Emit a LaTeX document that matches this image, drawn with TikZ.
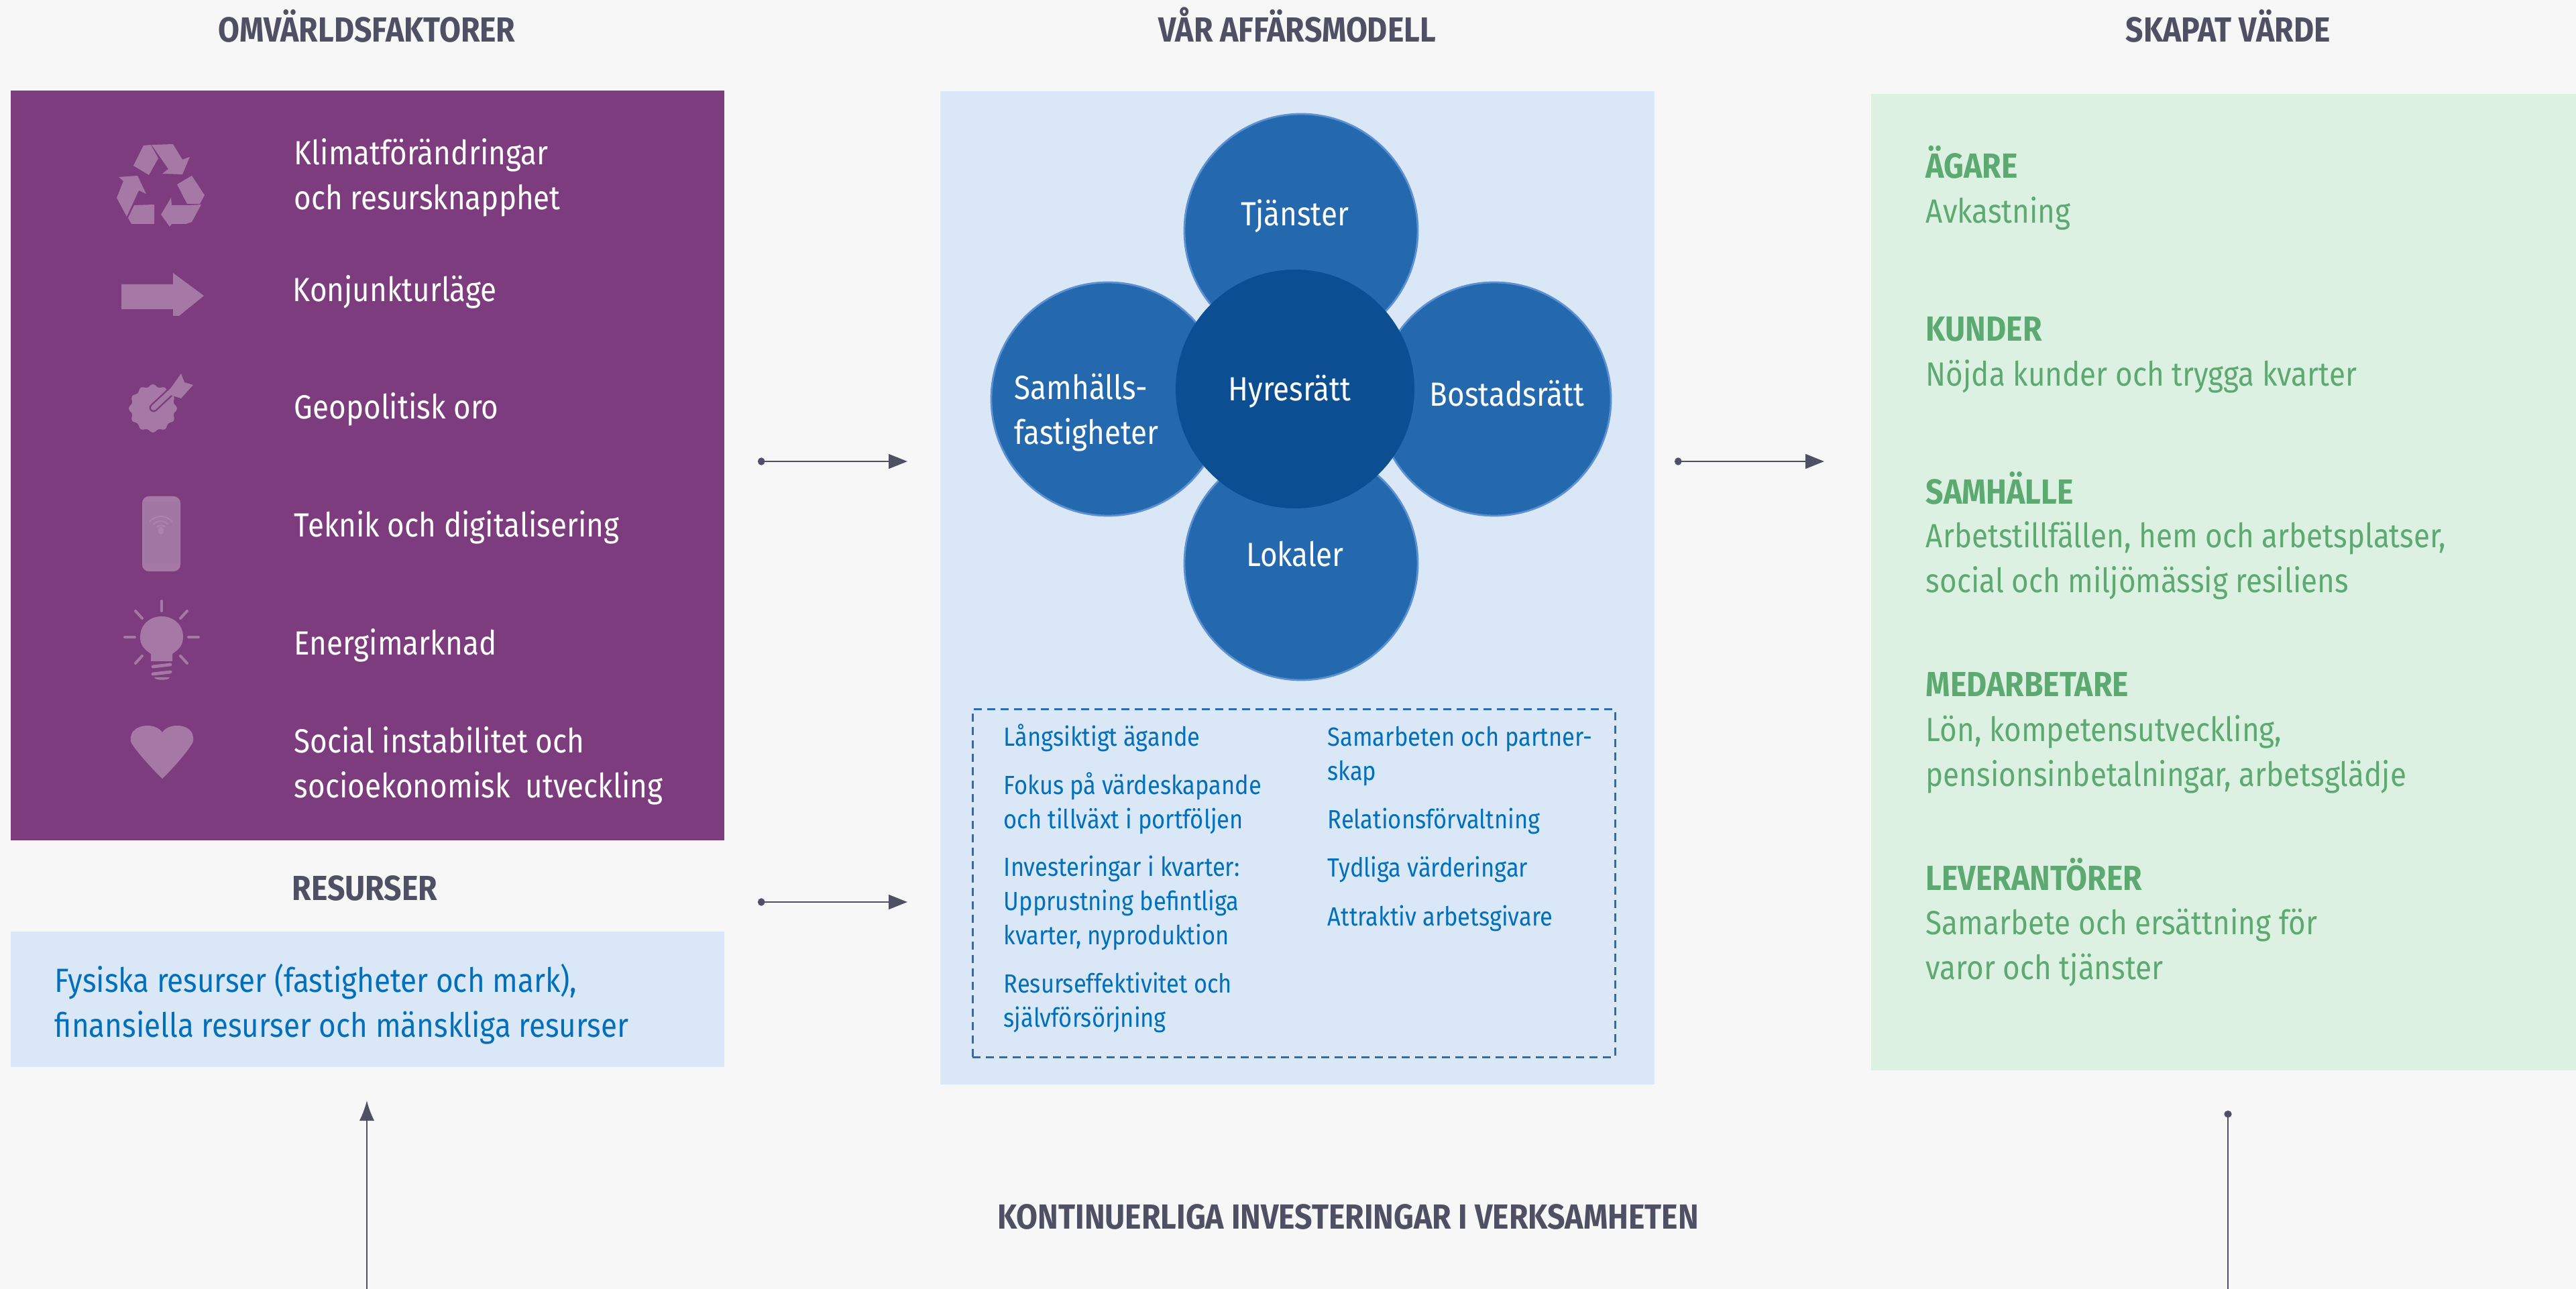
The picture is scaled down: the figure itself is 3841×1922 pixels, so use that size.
\documentclass[tikz,border=0pt]{standalone}
\usepackage{fontspec}
\usetikzlibrary{arrows.meta,fit}
\setmainfont{Fira Sans}
\newfontfamily\bodyf[FakeStretch=0.88]{Fira Sans}
\newfontfamily\headf[FakeStretch=0.89]{Fira Sans Bold}
\definecolor{bgc}{HTML}{F7F7F7}
\definecolor{purp}{HTML}{7D3C7E}
\definecolor{iconc}{HTML}{A678A6}
\definecolor{iconb}{HTML}{A176A3}
\definecolor{paleblue}{HTML}{DAE7F6}
\definecolor{palegreen}{HTML}{DCF1E1}
\definecolor{petal}{HTML}{2469AD}
\definecolor{petalb}{HTML}{5B90D2}
\definecolor{hub}{HTML}{0B4F92}
\definecolor{bluetxt}{HTML}{0070BC}
\definecolor{dashc}{HTML}{2D6DB4}
\definecolor{greentxt}{HTML}{5DA972}
\definecolor{darkc}{HTML}{4F5064}
\tikzset{
  panel/.style={inner sep=0pt,outer sep=0pt,draw=none},
  title/.style={inner sep=0pt,anchor=base,text=darkc,yshift=-.2pt,font=\headf\fontsize{13}{16}\selectfont},
  bodytxt/.style={inner sep=0pt,anchor=base west,align=left,yshift=-.4pt,font=\bodyf\fontsize{12.5}{16.75}\selectfont},
  smalltxt/.style={inner sep=0pt,anchor=base west,align=left,yshift=-.3pt,text=bluetxt,font=\bodyf\fontsize{9.8}{12.75}\selectfont},
  greenhead/.style={inner sep=0pt,anchor=base west,text=greentxt,yshift=-.4pt,font=\headf\fontsize{13}{16}\selectfont},
  greenbody/.style={bodytxt,text=greentxt},
  whitetxt/.style={bodytxt,text=white},
  petalnode/.style={circle,inner sep=0pt,outer sep=0pt,minimum size=87pt,fill=petal,draw=petalb,line width=.7pt},
  hubnode/.style={circle,inner sep=0pt,outer sep=0pt,minimum size=89pt,fill=hub},
  flow/.style={darkc,line width=.7pt,{Circle[length=2.6pt,width=2.8pt]}-{Triangle[length=7pt,width=5.4pt]}},
  upflow/.style={darkc,line width=.5pt,-{Latex[length=7.5pt,width=5.6pt]}},
  ray/.style={iconc,line width=1pt,line cap=round},
}
\begin{document}
\begin{tikzpicture}[x=0.25pt,y=-0.25pt]
\useasboundingbox (0,0) rectangle (3841,1922);
\fill[bgc] (0,0) rectangle (3841,1922);

% panels
\node[panel,fill=purp,fit={(16,135)(1080,1253)}] (purple) {};
\node[panel,fill=paleblue,fit={(16,1389)(1080,1591)}] (resbox) {};
\node[panel,fill=paleblue,fit={(1402,136)(2467,1617)}] (model) {};
\node[panel,fill=palegreen,fit={(2790,140)(3841,1596)}] (value) {};
\node[panel,draw=dashc,line width=.75pt,dash pattern=on 3pt off 2pt,fit={(1450,1058)(2408,1576)}] (dashbox) {};

% titles
\node[title] (t1) at (547,62) {OMVÄRLDSFAKTORER};
\node[title] (t2) at (1934,62) {VÅR AFFÄRSMODELL};
\node[title] (t3) at (3322,62) {SKAPAT VÄRDE};
\node[title] (t4) at (544,1342) {RESURSER};
\node[title] (t5) at (2010,1832) {KONTINUERLIGA INVESTERINGAR I VERKSAMHETEN};

% icons: recycle
\fill[iconc] (199,247) -- (214,217) -- (225,216) -- (236,236) -- (222,261) -- cycle;
\fill[iconc] (226,216) -- (258,215) -- (272,238) -- (283,234) -- (272,260) -- (242,259) -- (251,252) -- cycle;
\fill[iconc] (286,262) -- (305,291) -- (298,304) -- (279,304) -- (264,275) -- cycle;
\fill[iconc] (300,305) -- (286,331) -- (277,334) -- (256,334) -- (253,338) -- (240,320) -- (255,295) -- (256,306) -- (281,306) -- cycle;
\fill[iconc] (230,305) -- (230,334) -- (196,334) -- (191,325) -- (200,306) -- cycle;
\fill[iconc] (177,264) -- (205,262) -- (218,289) -- (207,284) -- (189,323) -- (174,295) -- (184,270) -- cycle;
% arrow
\fill[iconc] (181,424) -- (258,424) -- (258,407) -- (304,441) -- (267,471) -- (258,471) -- (258,461) -- (181,461) -- cycle;
% target
\fill[iconc] plot[samples=72,domain=0:355] ({228+(34+2*cos(12*\x))*cos(\x)},{609+(34+2*cos(12*\x))*sin(\x)}) -- cycle;
\draw[purp,line width=3.2pt,line cap=round] (229,608) -- (258,581);
\draw[iconc,line width=2pt,line cap=round] (229,608) -- (258,581);
\fill[iconc] (253,581) -- (270,557) -- (275,570) -- (288,574) -- (270,594) -- (254,589) -- cycle;
% phone
\fill[iconc,rounded corners=2.5pt] (212,740) rectangle (269,852);
\fill[iconb] (214,748) rectangle (267,840);
\draw[iconc!92!white,line width=.5pt] (229,782) arc (220:320:14);
\draw[iconc!92!white,line width=.5pt] (223,778) arc (220:320:22);
\draw[iconc!92!white,line width=.5pt] (234,786) arc (220:320:8);
\fill[iconc!92!white] (240,791) ellipse (4 and 6);
% bulb
\fill[iconc] (225,986) -- (225,975) .. controls (215,968) and (209,962) .. (209,950) .. controls (209,930) and (225,919) .. (241,919) .. controls (257,919) and (273,930) .. (273,950) .. controls (273,962) and (267,968) .. (257,975) -- (257,986) -- cycle;
\draw[ray] (241,896) -- (241,911);
\draw[ray] (202,911) -- (212,922);
\draw[ray] (279,911) -- (269,922);
\draw[ray] (186,950) -- (201,950);
\draw[ray] (281,950) -- (296,950);
\draw[ray] (202,989) -- (212,978);
\draw[ray] (279,989) -- (269,978);
\draw[ray,line width=1.2pt] (228,994) -- (254,991);
\draw[ray,line width=1.2pt] (228,1005) -- (254,1002);
\fill[iconc] (230,1010) -- (253,1010) .. controls (252,1015) and (231,1015) .. cycle;
% heart
\fill[iconc] (242,1161) .. controls (220,1140) and (195,1110) .. (195,1105) .. controls (193,1090) and (205,1082) .. (220,1082) .. controls (230,1082) and (238,1086) .. (242,1092) .. controls (246,1086) and (254,1082) .. (264,1082) .. controls (279,1082) and (290,1090) .. (288,1105) .. controls (288,1110) and (264,1140) .. (242,1161) -- cycle;

% left texts
\node[whitetxt] (f1) at (438,311) {Klimatförändringar\\och resursknapphet};
\node[whitetxt] (f2) at (436,448) {Konjunkturläge};
\node[whitetxt] (f3) at (438,623) {Geopolitisk oro};
\node[whitetxt] (f4) at (438,799) {Teknik och digitalisering};
\node[whitetxt] (f5) at (438,975) {Energimarknad};
\node[whitetxt] (f6) at (438,1188) {Social instabilitet och\\socioekonomisk\ \ utveckling};
\node[bodytxt,text=bluetxt] (res) at (81,1545) {Fysiska resurser (fastigheter och mark),\\finansiella resurser och mänskliga resurser};

% circles
\node[petalnode] (ptop) at (1940,344) {};
\node[petalnode] (pbot) at (1940,840) {};
\node[petalnode] (pleft) at (1652,595) {};
\node[petalnode] (pright) at (2228,595) {};
\node[hubnode] (phub) at (1931,580) {};
\node[whitetxt,anchor=base] (ltop) at (1931,335) {Tjänster};
\node[whitetxt,anchor=base] (lbot) at (1931,843) {Lokaler};
\node[whitetxt,anchor=base] (lhub) at (1923,596) {Hyresrätt};
\node[whitetxt,anchor=base] (lright) at (2247,604) {Bostadsrätt};
\node[whitetxt] (lleft) at (1512,661) {Samhälls-\\fastigheter};

% dashed box text
\node[smalltxt] (a1) at (1496,1111) {Långsiktigt ägande};
\node[smalltxt] (a2) at (1496,1234) {Fokus på värdeskapande\\och tillväxt i portföljen};
\node[smalltxt] (a3) at (1496,1407) {Investeringar i kvarter:\\Upprustning befintliga\\kvarter, nyproduktion};
\node[smalltxt] (a4) at (1496,1530) {Resurseffektivitet och\\självförsörjning};
\node[smalltxt] (b1) at (1979,1162) {Samarbeten och partner-\\skap};
\node[smalltxt] (b2) at (1979,1234) {Relationsförvaltning};
\node[smalltxt] (b3) at (1979,1306) {Tydliga värderingar};
\node[smalltxt] (b4) at (1979,1379) {Attraktiv arbetsgivare};

% right texts
\node[greenhead] (h1) at (2871,264) {ÄGARE};
\node[greenbody] (v1) at (2871,331) {Avkastning};
\node[greenhead] (h2) at (2871,507) {KUNDER};
\node[greenbody] (v2) at (2871,574) {Nöjda kunder och trygga kvarter};
\node[greenhead] (h3) at (2871,750) {SAMHÄLLE};
\node[greenbody] (v3) at (2871,882) {Arbetstillfällen, hem och arbetsplatser,\\social och miljömässig resiliens};
\node[greenhead] (h4) at (2871,1037) {MEDARBETARE};
\node[greenbody] (v4) at (2871,1171) {Lön, kompetensutveckling,\\pensionsinbetalningar, arbetsglädje};
\node[greenhead] (h5) at (2871,1326) {LEVERANTÖRER};
\node[greenbody] (v5) at (2871,1459) {Samarbete och ersättning för\\varor och tjänster};

% connectors
\coordinate (c1a) at (1130,688); \coordinate (c1b) at (1353,688);
\coordinate (c2a) at (1130,1345); \coordinate (c2b) at (1353,1345);
\coordinate (c3a) at (2497,688); \coordinate (c3b) at (2720,688);
\coordinate (c4a) at (547,1922); \coordinate (c4b) at (547,1641);
\coordinate (c5a) at (3322,1656); \coordinate (c5b) at (3322,1922);
\draw[flow] (c1a) -- (c1b);
\draw[flow] (c2a) -- (c2b);
\draw[flow] (c3a) -- (c3b);
\draw[upflow] (c4a) -- (c4b);
\draw[darkc,line width=.5pt,{Circle[length=2.6pt,width=2.8pt]}-] (c5a) -- (c5b);
\end{tikzpicture}
\end{document}
